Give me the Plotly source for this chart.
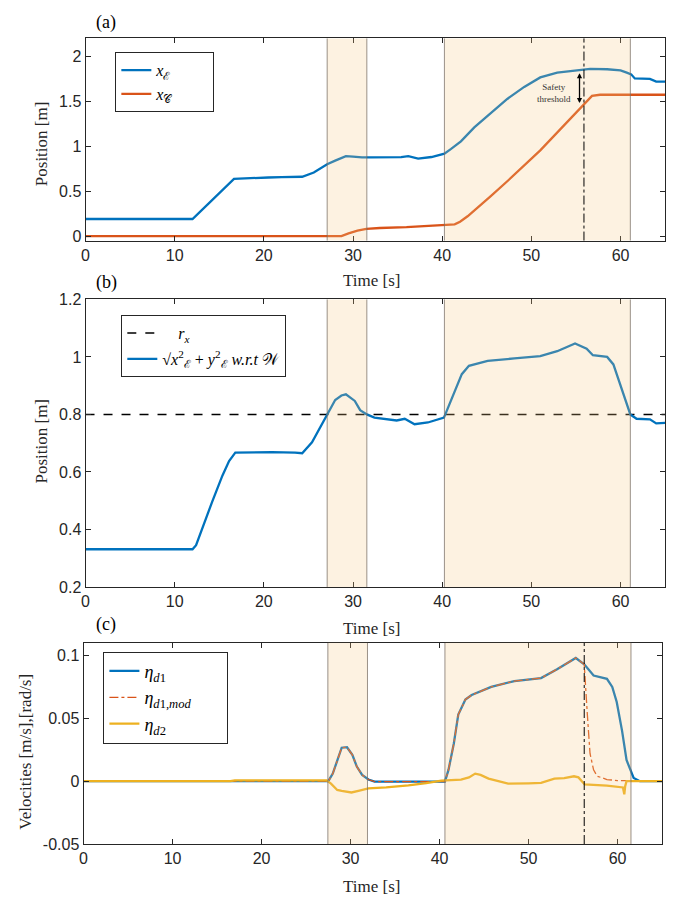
import plotly.graph_objects as go

# ---------------- data ----------------
# Panel (a)
t_xE = [0, 12, 16.65, 18, 20.5, 22, 24.3, 25.6, 27.1, 28.0, 28.7, 29.2, 30.0, 31.0, 32, 33.9, 35.4, 36.2,
        37.3, 38.8, 40.25, 41.0, 42.1, 43.6, 45.5, 47.3, 49.2, 51.0, 52.9, 54.7, 55.9, 56.6, 58.5, 60.0, 60.7,
        61.2, 61.6, 63.3, 64.0, 65]
x_E = [0.19, 0.19, 0.637, 0.645, 0.652, 0.655, 0.66, 0.707, 0.80, 0.84, 0.874, 0.89, 0.885, 0.875, 0.875,
       0.875, 0.878, 0.889, 0.863, 0.88, 0.918, 0.97, 1.055, 1.21, 1.37, 1.526, 1.66, 1.766, 1.82, 1.84, 1.846,
       1.86, 1.857, 1.845, 1.82, 1.80, 1.755, 1.75, 1.72, 1.72]
t_xC = [0, 28.7, 29.5, 30.5, 31.5, 33, 36, 38, 40.25, 41.4, 42.0, 42.85, 45.45, 47.3, 51.0, 54.7, 55.9, 56.8,
        57.7, 65]
x_C = [0, 0, 0.03, 0.06, 0.08, 0.09, 0.10, 0.11, 0.124, 0.13, 0.16, 0.22, 0.444, 0.61, 0.954, 1.336, 1.47,
       1.56, 1.573, 1.573]

# Panel (b)
t_r = [0, 12, 12.4, 13.1, 14.2, 15.35, 16.1, 16.8, 20.9, 23.5, 24.3, 25.4, 27.1, 28.0, 28.7, 29.2, 30.2,
       30.8, 31.55, 32.4, 34.9, 35.8, 36.9, 38.4, 40.2, 41.4, 42.2, 43.0, 45.1, 48.1, 51.0, 52.9, 54.9, 56.2,
       56.9, 58.5, 59.2, 61.1, 61.8, 63.3, 64.0, 65]
r_E = [0.331, 0.331, 0.345, 0.405, 0.496, 0.587, 0.638, 0.667, 0.669, 0.667, 0.665, 0.703, 0.80, 0.85, 0.866,
       0.87, 0.847, 0.815, 0.80, 0.789, 0.779, 0.785, 0.766, 0.772, 0.789, 0.883, 0.94, 0.969, 0.986, 0.995,
       1.003, 1.02, 1.047, 1.029, 1.006, 1.0, 0.974, 0.80, 0.785, 0.783, 0.769, 0.771]
r_x = 0.8

# Panel (c)
t_d1 = [0, 27.5, 28.0, 28.5, 29.0, 29.6, 30.2, 30.7, 31.3, 32.0, 32.7, 40.6, 41.0, 41.6, 42.1, 42.9, 43.6,
        45.8, 48.4, 51.4, 53.2, 55.3, 56.25, 57.3, 58.8, 59.4, 59.9, 60.5, 61.0, 61.8, 62.5, 65]
eta_d1 = [0, 0, 0.006, 0.017, 0.0266, 0.027, 0.021, 0.0116, 0.005, 0.0013, -0.0004, -0.0004, 0.009, 0.03,
          0.053, 0.065, 0.0685, 0.075, 0.0796, 0.082, 0.089, 0.098, 0.093, 0.084, 0.0814, 0.075, 0.063, 0.04,
          0.0168, 0.0026, 0, 0]
t_mod = [0, 27.5, 28.0, 28.5, 29.0, 29.6, 30.2, 30.7, 31.3, 32.0, 32.7, 40.6, 41.0, 41.6, 42.1, 42.9, 43.6,
         45.8, 48.4, 51.4, 53.2, 55.3, 56.25, 56.6, 56.9, 57.3, 57.7, 58.8, 60.0, 65]
eta_mod = [0, 0, 0.006, 0.017, 0.0266, 0.027, 0.021, 0.0116, 0.005, 0.0013, -0.0004, -0.0004, 0.009, 0.03,
           0.053, 0.065, 0.0685, 0.075, 0.0796, 0.082, 0.089, 0.098, 0.093, 0.053, 0.022, 0.009, 0.004,
           0.0013, 0.0005, 0]
t_d2 = [0, 16.5, 17, 27.3, 27.8, 28.5, 29.0, 30.1, 31, 32.0, 34, 36.5, 38.5, 40.2, 42.4, 43.3, 44.0, 44.6,
        45.5, 47.7, 50, 51.4, 52.9, 54, 55.1, 55.6, 56.3, 58.8, 60.6, 60.75, 60.85, 61.0, 65]
eta_d2 = [0, 0, 0.0006, 0.0006, -0.002, -0.007, -0.0078, -0.009, -0.0075, -0.0057, -0.005, -0.0034, -0.0015,
          0.0005, 0.0013, 0.003, 0.006, 0.005, 0.002, -0.002, -0.0017, -0.0013, 0.002, 0.0025, 0.0039, 0.003,
          -0.0026, -0.0036, -0.005, -0.0105, -0.004, 0, 0]

regions_ab = [(27.1, 31.55), (40.25, 61.1)]
regions_c = [(27.45, 31.9), (40.6, 61.5)]
event_a = 55.9
event_c = 56.25

x_ticks = [0, 10, 20, 30, 40, 50, 60]

# ---------------- styles ----------------
BLUE = "#0072BD"
ORANGE = "#D95319"
YELLOW = "#EDB120"
AX = "#262626"
SERIF = "Liberation Serif, Times New Roman, serif"
SANS = "Liberation Sans, Arial, sans-serif"
W, H = 683, 907
NB = "&nbsp;"

fig = go.Figure()

fig.add_trace(go.Scatter(x=t_xE, y=x_E, mode="lines", line=dict(color=BLUE, width=2.3),
                         name="<i>x</i><sub>ℰ</sub>" + NB * 9, xaxis="x", yaxis="y", legend="legend"))
fig.add_trace(go.Scatter(x=t_xC, y=x_C, mode="lines", line=dict(color=ORANGE, width=2.3),
                         name="<i>x</i><sub>𝒞</sub>", xaxis="x", yaxis="y", legend="legend"))

fig.add_trace(go.Scatter(x=[0, 65], y=[r_x, r_x], mode="lines",
                         line=dict(color="black", width=1.6, dash="dash"),
                         name=NB * 4 + "<i>r</i><sub><i>x</i></sub>", xaxis="x2", yaxis="y2",
                         legend="legend2", legendgroup="b1"))
fig.add_trace(go.Scatter(x=t_r, y=r_E, mode="lines", line=dict(color=BLUE, width=2.3),
                         name="√<i>x</i><sup>2</sup><sub>ℰ</sub> + <i>y</i><sup>2</sup><sub>ℰ</sub> <i>w.r.t</i> 𝒲",
                         xaxis="x2", yaxis="y2", legend="legend2", legendgroup="b2"))

fig.add_trace(go.Scatter(x=t_d1, y=eta_d1, mode="lines", line=dict(color=BLUE, width=2.3),
                         name="<i>η</i><sub><i>d</i>1</sub>", xaxis="x3", yaxis="y3", legend="legend3"))
fig.add_trace(go.Scatter(x=t_mod, y=eta_mod, mode="lines", line=dict(color=ORANGE, width=1.3, dash="dashdot"),
                         name="<i>η</i><sub><i>d</i>1,<i>mod</i></sub>" + NB * 7, xaxis="x3", yaxis="y3",
                         legend="legend3"))
fig.add_trace(go.Scatter(x=t_d2, y=eta_d2, mode="lines", line=dict(color=YELLOW, width=2.3),
                         name="<i>η</i><sub><i>d</i>2</sub>", xaxis="x3", yaxis="y3", legend="legend3"))


def xdom(l, r):
    return [l / W, r / W]


def ydom(top, bottom):
    return [1 - bottom / H, 1 - top / H]


axis_common = dict(showline=True, linecolor=AX, linewidth=1, mirror="ticks", ticks="inside",
                   ticklen=5, tickcolor=AX, tickfont=dict(family=SANS, size=16, color=AX),
                   showgrid=False, zeroline=False)

fig.update_layout(
    width=W, height=H, margin=dict(l=0, r=0, t=0, b=0),
    paper_bgcolor="white", plot_bgcolor="white", showlegend=True,
    xaxis=dict(domain=xdom(82, 665), range=[0, 65], tickvals=x_ticks, anchor="y", **axis_common),
    yaxis=dict(domain=ydom(31, 237), range=[-0.05, 2.2], tickvals=[0, 0.5, 1, 1.5, 2],
               ticktext=["0", "0.5", "1", "1.5", "2"], anchor="x", **axis_common),
    xaxis2=dict(domain=xdom(82, 665), range=[0, 65], tickvals=x_ticks, anchor="y2", **axis_common),
    yaxis2=dict(domain=ydom(297, 590), range=[0.2, 1.2], tickvals=[0.2, 0.4, 0.6, 0.8, 1, 1.2],
                ticktext=["0.2", "0.4", "0.6", "0.8", "1", "1.2"], anchor="x2", **axis_common),
    xaxis3=dict(domain=xdom(80, 662), range=[0, 65], tickvals=x_ticks, anchor="y3", **axis_common),
    yaxis3=dict(domain=ydom(647, 852), range=[-0.05, 0.11], tickvals=[-0.05, 0, 0.05, 0.1],
                ticktext=["-0.05", "0", "0.05", "0.1"], anchor="x3", **axis_common),
    legend=dict(x=112 / W, y=1 - 45 / H, xanchor="left", yanchor="top", bgcolor="white",
                bordercolor=AX, borderwidth=1, font=dict(family=SERIF, size=16, color="black"),
                tracegroupgap=0),
    legend2=dict(x=118 / W, y=1 - 313 / H, xanchor="left", yanchor="top", bgcolor="white",
                 bordercolor=AX, borderwidth=1, font=dict(family=SERIF, size=16, color="black"),
                 tracegroupgap=2),
    legend3=dict(x=100 / W, y=1 - 656 / H, xanchor="left", yanchor="top", bgcolor="white",
                 bordercolor=AX, borderwidth=1, font=dict(family=SERIF, size=18, color="black")),
)

shapes = []
for xr, yr, regs in (("x", "y", regions_ab), ("x2", "y2", regions_ab), ("x3", "y3", regions_c)):
    for a, b in regs:
        shapes.append(dict(type="rect", xref=xr, yref=yr + " domain", x0=a, x1=b, y0=0, y1=1,
                           fillcolor="rgba(245,200,130,0.24)", line=dict(width=0), layer="above"))
        for v in (a, b):
            shapes.append(dict(type="line", xref=xr, yref=yr + " domain", x0=v, x1=v, y0=0, y1=1,
                               line=dict(color="rgba(120,110,100,0.75)", width=1), layer="above"))
for xr, yr, ev in (("x", "y", event_a), ("x3", "y3", event_c)):
    shapes.append(dict(type="line", xref=xr, yref=yr + " domain", x0=ev, x1=ev, y0=0, y1=1,
                       line=dict(color="black", width=1, dash="dashdot"), layer="above"))
fig.update_layout(shapes=shapes)

ann = []
for txt, ypx in (("(a)", 15), ("(b)", 280), ("(c)", 628)):
    ann.append(dict(text=txt, xref="paper", yref="paper", x=103 / W, y=1 - ypx / H, showarrow=False,
                    font=dict(family=SERIF, size=18, color="black"), xanchor="center", yanchor="middle"))
for ypx in (278, 632, 895):
    ann.append(dict(text="Time [s]", xref="paper", yref="paper", x=370 / W, y=1 - ypx / H, showarrow=False,
                    font=dict(family=SERIF, size=17, color=AX), xanchor="center", yanchor="middle"))
for txt, xpx, ypx in (("Position [m]", 38, 138), ("Position [m]", 38, 441),
                      ("Velocities [m/s],[rad/s]", 22, 758)):
    ann.append(dict(text=txt, xref="paper", yref="paper", x=xpx / W, y=1 - ypx / H, showarrow=False,
                    textangle=-90, font=dict(family=SERIF, size=17, color=AX),
                    xanchor="center", yanchor="middle"))
ann.append(dict(x=55.4, y=1.48, ax=55.4, ay=1.83, xref="x", yref="y", axref="x", ayref="y", text="",
                showarrow=True, arrowhead=2, arrowside="end+start", arrowsize=0.8, arrowwidth=1.3,
                arrowcolor="black"))
ann.append(dict(x=52.5, y=1.59, xref="x", yref="y", text="Safety<br>threshold", showarrow=False,
                font=dict(family=SERIF, size=9, color="#333333"), xanchor="center", yanchor="middle"))
fig.update_layout(annotations=ann)

fig.write_html("out.html")
